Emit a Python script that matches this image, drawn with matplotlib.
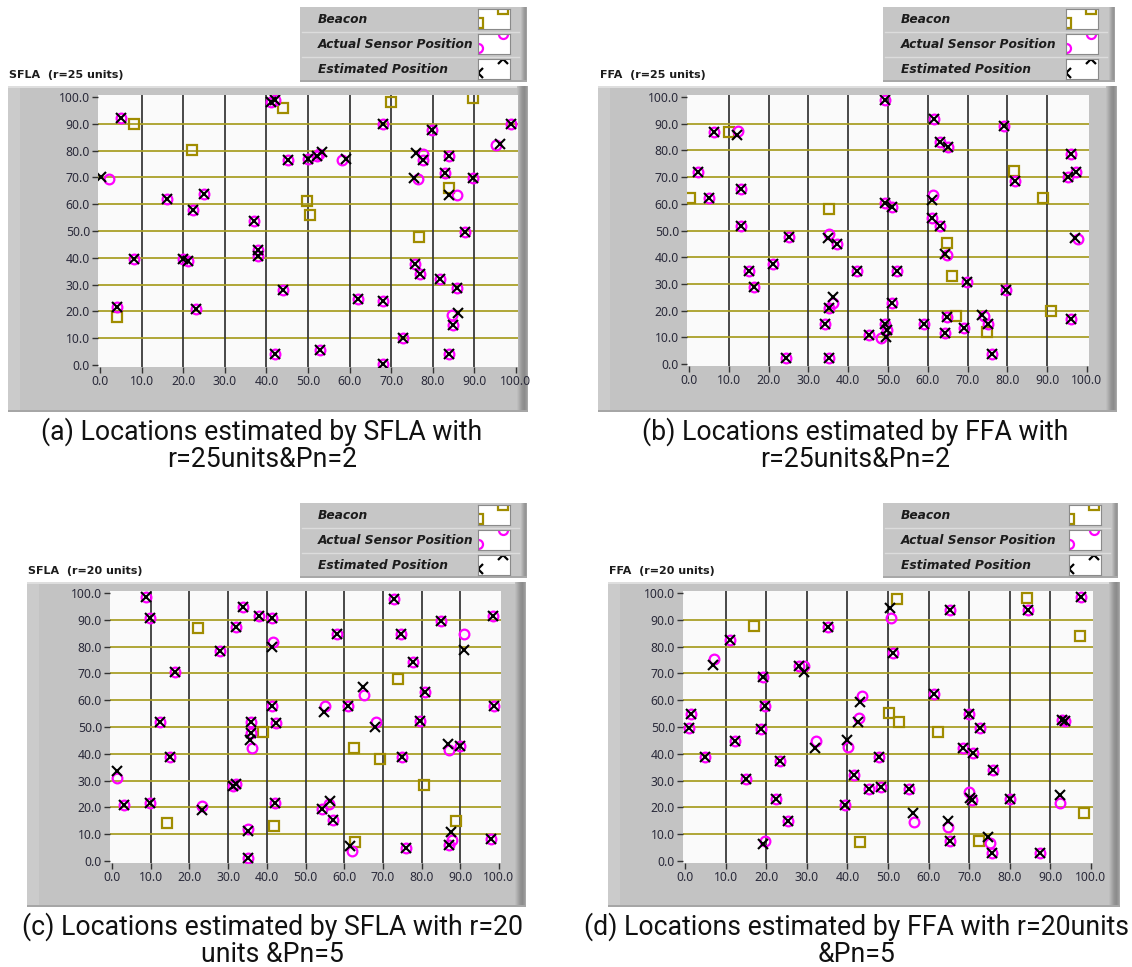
import numpy as np
import matplotlib.pyplot as plt
from matplotlib.patches import Rectangle

# ---- data (x, y) ----
sfla25_beacon = [(8.2, 89.8), (22.1, 80.1), (4.1, 17.8), (43.9, 96.0), (69.9, 98.0),
                 (89.6, 99.8), (83.8, 65.9), (49.7, 61.2), (50.6, 56.0), (76.8, 47.9)]
sfla25_actual = [(5.0, 92.0), (2.2, 69.5), (16.2, 62.1), (25.0, 63.7), (22.3, 57.8),
                 (37.1, 53.7), (8.2, 39.7), (20.0, 39.6), (21.2, 38.9), (37.9, 42.9),
                 (37.9, 40.8), (4.2, 21.8), (23.1, 20.8), (43.9, 27.9), (42.1, 4.0),
                 (41.1, 98.3), (42.1, 98.9), (45.1, 76.6), (50.1, 76.9), (52.1, 78.1),
                 (52.7, 78.9), (58.1, 76.5), (68.1, 89.8), (79.7, 87.7), (98.7, 89.8),
                 (95.1, 82.1), (77.6, 78.7), (77.6, 76.5), (83.8, 78.0), (82.9, 71.8),
                 (76.5, 69.4), (89.7, 69.7), (85.9, 63.4), (87.7, 49.8), (75.7, 37.6),
                 (76.9, 33.8), (81.7, 32.1), (85.7, 28.6), (62.1, 24.6), (68.1, 23.9),
                 (84.5, 18.7), (84.9, 14.9), (72.9, 10.0), (52.9, 5.6), (83.8, 4.0),
                 (68.1, 0.2)]
sfla25_est = [(5.0, 92.0), (0.3, 70.2), (16.2, 62.1), (25.0, 63.7), (22.3, 57.8),
              (37.1, 53.7), (8.2, 39.7), (20.0, 39.6), (21.2, 38.9), (37.9, 42.9),
              (37.9, 40.8), (4.2, 21.8), (23.1, 20.8), (43.9, 27.9), (42.1, 4.0),
              (41.1, 98.3), (42.1, 98.9), (45.1, 76.6), (50.1, 76.9), (52.1, 78.1),
              (53.3, 79.3), (59.2, 77.0), (68.1, 89.8), (79.7, 87.7), (98.7, 89.8),
              (96.2, 82.3), (75.9, 79.2), (77.6, 76.5), (83.8, 78.0), (82.9, 71.8),
              (75.5, 69.7), (89.7, 69.7), (83.8, 63.4), (87.7, 49.8), (75.7, 37.6),
              (76.9, 33.8), (81.7, 32.1), (85.7, 28.6), (62.1, 24.6), (68.1, 23.9),
              (86.1, 19.3), (84.9, 14.9), (72.9, 10.0), (52.9, 5.6), (83.8, 4.0),
              (68.1, 0.2)]

ffa25_beacon = [(10.1, 87.0), (0.25, 62.0), (35.1, 58.0), (81.7, 72.3), (88.9, 62.0),
                (64.9, 45.2), (66.0, 33.0), (67.1, 17.9), (74.9, 12.0), (91.0, 19.9)]
ffa25_actual = [(6.3, 86.8), (12.4, 87.1), (2.2, 71.8), (5.1, 62.0), (13.0, 65.5),
                (13.0, 51.8), (35.3, 48.8), (37.3, 44.8), (25.1, 47.7), (21.0, 37.5),
                (15.2, 34.8), (16.3, 28.7), (42.1, 34.8), (36.1, 22.8), (35.3, 20.8),
                (34.2, 14.9), (24.4, 2.4), (35.3, 2.4), (49.3, 99.0), (61.6, 91.8),
                (79.1, 89.3), (63.1, 83.0), (65.2, 81.4), (96.0, 78.7), (81.9, 68.7),
                (95.3, 70.0), (97.2, 71.8), (61.2, 63.3), (49.2, 60.2), (50.9, 58.7),
                (61.0, 54.8), (63.1, 51.8), (64.9, 40.8), (97.8, 46.8), (52.2, 34.8),
                (69.9, 30.6), (79.7, 27.8), (50.9, 22.7), (64.9, 17.7), (74.0, 18.0),
                (75.2, 14.9), (96.0, 16.7), (59.1, 14.9), (64.3, 11.7), (69.1, 13.6),
                (49.3, 14.9), (49.7, 12.7), (45.2, 10.9), (48.2, 9.9), (76.1, 3.6)]
ffa25_est = [(6.3, 86.8), (12.0, 85.8), (2.2, 71.8), (5.1, 62.0), (13.0, 65.5),
             (13.0, 51.8), (35.0, 47.3), (37.3, 44.8), (25.1, 47.7), (21.0, 37.5),
             (15.2, 34.8), (16.3, 28.7), (42.1, 34.8), (36.3, 25.2), (35.3, 20.8),
             (34.2, 14.9), (24.4, 2.4), (35.3, 2.4), (49.3, 99.0), (61.6, 91.8),
             (79.1, 89.3), (63.1, 83.0), (65.2, 81.4), (96.0, 78.7), (81.9, 68.7),
             (95.3, 70.0), (97.2, 71.8), (61.0, 61.4), (49.2, 60.2), (50.9, 58.7),
             (61.0, 54.8), (63.1, 51.8), (64.3, 41.1), (96.9, 47.3), (52.2, 34.8),
             (69.9, 30.6), (79.7, 27.8), (50.9, 22.7), (64.9, 17.7), (73.5, 18.4),
             (75.2, 14.9), (96.0, 16.7), (59.1, 14.9), (64.3, 11.7), (69.1, 13.6),
             (49.3, 14.9), (49.7, 12.7), (45.2, 10.9), (49.5, 10.2), (76.1, 3.6)]

sfla20_beacon = [(22.1, 86.8), (39.1, 48.0), (14.1, 14.1), (41.9, 13.2), (73.8, 67.9),
                 (62.5, 42.0), (69.3, 37.9), (80.7, 28.4), (88.9, 15.0), (62.9, 7.2)]
sfla20_actual = [(8.8, 98.6), (9.8, 90.5), (32.0, 87.4), (33.9, 94.7), (38.1, 91.5),
                 (41.3, 90.5), (41.5, 81.6), (27.9, 78.4), (16.3, 70.6), (41.3, 57.8),
                 (42.5, 51.4), (12.4, 51.7), (35.8, 51.7), (35.8, 47.6), (36.1, 42.3),
                 (15.0, 38.7), (1.2, 31.1), (3.1, 20.9), (9.8, 21.8), (23.2, 20.6),
                 (31.2, 28.0), (32.0, 28.8), (42.1, 21.8), (35.1, 11.9), (35.1, 1.0),
                 (72.9, 97.6), (98.4, 91.5), (85.0, 89.6), (58.1, 84.6), (74.8, 84.6),
                 (90.9, 84.6), (77.9, 74.1), (65.1, 61.9), (80.9, 62.9), (55.0, 58.0),
                 (61.1, 57.8), (98.7, 57.8), (68.2, 51.7), (79.7, 52.4), (75.0, 38.9),
                 (87.2, 41.4), (89.9, 43.0), (54.2, 19.4), (56.2, 21.1), (57.0, 15.3),
                 (87.9, 7.8), (87.2, 6.0), (97.9, 8.2), (62.1, 3.9), (75.9, 4.7)]
sfla20_est = [(8.8, 98.6), (9.8, 90.5), (32.0, 87.4), (33.9, 94.7), (38.1, 91.5),
              (41.3, 90.5), (41.3, 80.0), (27.9, 78.4), (16.3, 70.6), (41.3, 57.8),
              (42.5, 51.4), (12.4, 51.7), (35.8, 51.7), (35.8, 47.6), (35.7, 45.1),
              (15.0, 38.7), (1.2, 33.6), (3.1, 20.9), (9.8, 21.8), (23.2, 19.0),
              (31.2, 28.0), (32.0, 28.8), (42.1, 21.8), (35.2, 11.2), (35.1, 1.0),
              (72.9, 97.6), (98.4, 91.5), (85.0, 89.6), (58.1, 84.6), (74.8, 84.6),
              (90.9, 78.7), (77.9, 74.1), (64.8, 65.0), (80.9, 62.9), (54.8, 55.5),
              (61.1, 57.8), (98.7, 57.8), (67.9, 50.1), (79.7, 52.4), (75.0, 38.9),
              (86.9, 43.5), (89.9, 43.0), (54.2, 19.4), (56.3, 22.3), (57.0, 15.3),
              (87.6, 10.7), (87.2, 6.0), (97.9, 8.2), (61.5, 5.7), (75.9, 4.7)]

ffa20_beacon = [(17.0, 87.7), (43.2, 7.2), (52.3, 97.8), (84.2, 98.3), (97.4, 84.1),
                (50.2, 55.1), (52.8, 52.0), (62.3, 48.0), (98.2, 18.0), (72.4, 7.6)]
ffa20_actual = [(11.1, 82.5), (7.2, 75.4), (1.6, 54.7), (1.1, 49.8), (4.9, 38.9),
                (12.3, 44.9), (15.1, 30.6), (19.2, 68.8), (19.8, 57.8), (18.7, 49.1),
                (19.6, 7.6), (22.5, 23.1), (23.3, 37.4), (25.3, 14.9), (28.0, 72.9),
                (29.4, 72.9), (35.2, 87.4), (32.3, 44.8), (40.2, 42.7), (39.5, 20.9),
                (41.6, 32.1), (43.5, 61.7), (42.8, 53.5), (45.4, 26.9), (50.8, 90.5),
                (65.3, 93.7), (84.4, 93.7), (97.5, 98.6), (51.2, 77.7), (61.3, 62.2),
                (69.9, 54.7), (72.6, 49.8), (92.8, 52.6), (93.5, 52.4), (47.7, 38.9),
                (68.5, 42.0), (71.0, 40.2), (75.9, 34.0), (48.3, 27.6), (55.2, 26.9),
                (69.9, 25.9), (70.6, 22.8), (80.1, 23.1), (92.4, 21.5), (56.4, 14.7),
                (64.8, 12.8), (65.3, 7.5), (75.0, 6.8), (75.5, 2.9), (87.5, 2.9)]
ffa20_est = [(11.1, 82.5), (7.0, 73.1), (1.6, 54.7), (1.1, 49.8), (4.9, 38.9),
             (12.3, 44.9), (15.1, 30.6), (19.2, 68.8), (19.8, 57.8), (18.7, 49.1),
             (19.3, 6.2), (22.5, 23.1), (23.3, 37.4), (25.3, 14.9), (28.0, 72.9),
             (29.2, 70.4), (35.2, 87.4), (32.1, 42.3), (39.9, 45.1), (39.5, 20.9),
             (41.6, 32.1), (43.2, 59.5), (42.6, 52.0), (45.4, 26.9), (50.6, 94.3),
             (65.3, 93.7), (84.4, 93.7), (97.5, 98.6), (51.2, 77.7), (61.3, 62.2),
             (69.9, 54.7), (72.6, 49.8), (92.8, 52.6), (93.5, 52.4), (47.7, 38.9),
             (68.5, 42.0), (71.0, 40.2), (75.9, 34.0), (48.3, 27.6), (55.2, 26.9),
             (70.2, 23.6), (70.6, 22.8), (80.1, 23.1), (92.4, 24.6), (56.2, 17.8),
             (64.8, 14.9), (65.3, 7.5), (74.7, 9.1), (75.5, 2.9), (87.5, 2.9)]

titles = ["SFLA  (r=25 units)", "FFA  (r=25 units)", "SFLA  (r=20 units)", "FFA  (r=20 units)"]
captions = ["(a) Locations estimated by SFLA with\nr=25units&Pn=2",
            "(b) Locations estimated by FFA with\nr=25units&Pn=2",
            "(c) Locations estimated by SFLA with r=20\nunits &Pn=5",
            "(d) Locations estimated by FFA with r=20units\n&Pn=5"]
legend_names = ["Beacon", "Actual Sensor Position", "Estimated Position"]
tick_vals = np.arange(0, 101, 10)

BEACON_C = "#a08c00"
ACTUAL_C = "#ff00ff"
EST_C = "#000000"

W, H = 1132, 967
fig = plt.figure(figsize=(W / 100, H / 100), dpi=100)
bg = fig.add_axes([0, 0, 1, 1])
bg.set_xlim(0, W)
bg.set_ylim(H, 0)
bg.axis("off")


def px_axes(x0, y0, x1, y1):
    return fig.add_axes([x0 / W, 1 - y1 / H, (x1 - x0) / W, (y1 - y0) / H])


def draw_frame(x0, y0, x1, y1):
    bg.add_patch(Rectangle((x0, y0), x1 - x0, y1 - y0, fc="#c3c3c3", ec="none"))
    bg.add_patch(Rectangle((x0, y0), 12, y1 - y0, fc="#cbcbcb", ec="none"))
    bg.add_patch(Rectangle((x0, y0), x1 - x0, 2, fc="#dedede", ec="none"))
    shades = ["#bdbdbd", "#b5b5b5", "#acacac", "#a3a3a3", "#9a9a9a", "#939393",
              "#8f8f8f", "#8c8c8c", "#929292", "#999999", "#a8a8a8"]
    for i, c in enumerate(shades):
        bg.add_patch(Rectangle((x1 - len(shades) + i, y0), 1, y1 - y0, fc=c, ec="none"))
    bg.add_patch(Rectangle((x0, y1 - 2), x1 - x0, 2, fc="#a6a6a6", ec="none"))


def draw_legend(x0, y0, x1, y1):
    bg.add_patch(Rectangle((x0, y0), x1 - x0, y1 - y0, fc="#c6c6c6", ec="none"))
    shades = ["#bcbcbc", "#b0b0b0", "#a4a4a4", "#9a9a9a", "#959595", "#a0a0a0"]
    for i, c in enumerate(shades):
        bg.add_patch(Rectangle((x1 - len(shades) + i, y0), 1, y1 - y0, fc=c, ec="none"))
    bg.add_patch(Rectangle((x0, y1 - 2), x1 - x0, 2, fc="#a8a8a8", ec="none"))
    rh = (y1 - y0) / 3
    styles = [dict(marker="s", mec=BEACON_C), dict(marker="o", mec=ACTUAL_C), dict(marker="x", mec=EST_C)]
    for i, name in enumerate(legend_names):
        ry = y0 + i * rh
        if i > 0:
            bg.plot([x0 + 2, x1 - 8], [ry, ry], color="#dcdcdc", lw=1)
        bg.text(x0 + 18, ry + rh / 2, name, fontsize=8.8, fontweight="bold", style="italic",
                color="#1c1c1c", va="center", ha="left")
        sw = px_axes(x1 - 49, ry + 2, x1 - 17, ry + rh - 3)
        sw.set_facecolor("white")
        sw.set_xlim(0, 1)
        sw.set_ylim(0, 1)
        sw.set_xticks([])
        sw.set_yticks([])
        for s in sw.spines.values():
            s.set_color("#8a8a8a")
            s.set_linewidth(0.8)
        sw.plot([0.0, 0.78], [0.3, 1.0], ls="none", ms=6.5, mfc="none", mew=1.6, **styles[i])


def draw_panel(cal, beacon, actual, est):
    xa0, xa100, ya100, ya0 = cal
    sx = (xa100 - xa0) / 100
    sy = (ya0 - ya100) / 100
    xlim = (-0.4, 100.4)
    ylim = (-0.8, 100.8)
    ax = px_axes(xa0 + xlim[0] * sx, ya100 - (ylim[1] - 100) * sy,
                 xa0 + xlim[1] * sx, ya0 - ylim[0] * sy)
    ax.set_facecolor("#fafafa")
    ax.set_xlim(*xlim)
    ax.set_ylim(*ylim)
    for v in range(10, 100, 10):
        ax.axvline(v, color="#3a3a3a", lw=1.3, zorder=1)
        ax.axhline(v, color="#aaa028", lw=1.3, zorder=1)
    ax.set_xticks(tick_vals)
    ax.set_yticks(tick_vals)
    ax.set_xticklabels([f"{t:.1f}" for t in tick_vals])
    ax.set_yticklabels([f"{t:.1f}" for t in tick_vals])
    ax.tick_params(direction="out", length=4, width=1, color="#333333",
                   labelsize=8.8, labelcolor="#2a2a3a", pad=2)
    for lab in ax.get_xticklabels() + ax.get_yticklabels():
        lab.set_family("Noto Sans")
    for s in ax.spines.values():
        s.set_visible(False)
    bx, by = zip(*beacon)
    axx, axy = zip(*actual)
    ex, ey = zip(*est)
    ax.plot(bx, by, ls="none", marker="s", ms=6.5, mfc="none", mec=BEACON_C, mew=1.6, zorder=3)
    ax.plot(axx, axy, ls="none", marker="o", ms=7, mfc="none", mec=ACTUAL_C, mew=1.6, zorder=4)
    ax.plot(ex, ey, ls="none", marker="x", ms=6.5, mec=EST_C, mew=1.5, zorder=5)


frames = [(8, 86, 528, 412), (598, 86, 1117, 412), (27, 582, 526, 907), (608, 582, 1120, 907)]
calib = [(100, 516, 97, 365), (689, 1087, 97, 364), (112, 499, 593, 861), (685, 1091, 593, 861)]
legends = [(300, 7, 527, 82), (883, 7, 1115, 82), (300, 503, 527, 578), (883, 503, 1118, 578)]
title_pos = [(9, 78), (600, 78), (28, 574), (609, 574)]
caption_pos = [(262, 417), (855, 417), (272, 912), (857, 912)]
data = [(sfla25_beacon, sfla25_actual, sfla25_est), (ffa25_beacon, ffa25_actual, ffa25_est),
        (sfla20_beacon, sfla20_actual, sfla20_est), (ffa20_beacon, ffa20_actual, ffa20_est)]

for i in range(4):
    draw_frame(*frames[i])
    draw_legend(*legends[i])
    bg.text(title_pos[i][0], title_pos[i][1], titles[i], fontsize=8, fontweight="bold",
            color="#1c1c1c", va="baseline")
    bg.text(caption_pos[i][0], caption_pos[i][1], captions[i], fontsize=19.2,
            family=["Roboto", "DejaVu Sans"],
            ha="center", va="top", linespacing=1.03, color="#111111")
    draw_panel(calib[i], *data[i])

fig.savefig("out.png", dpi=100)
